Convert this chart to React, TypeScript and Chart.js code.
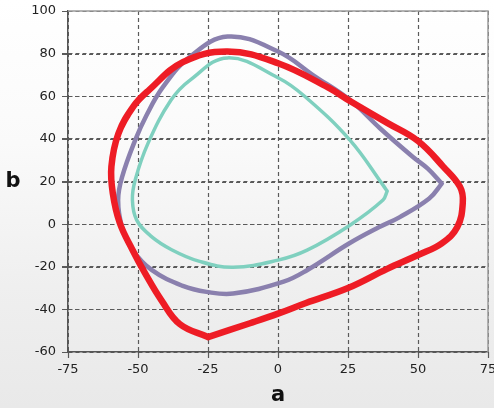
import React, { useEffect, useRef } from "react";
import { Chart, registerables } from "chart.js";

Chart.register(...registerables);

const redX = [-25, -10, 0, 10, 25, 39, 50, 58.5, 64, 66, 65, 59, 50, 39, 26, 18, 0, -18, -34, -46, -51.5, -57, -59.5, -59, -56.5, -52, -47.5, -41.5, -35, -25];
const redY = [-53, -46.5, -42, -37, -30, -21, -14.5, -9, -1.5, 10, 17.5, 27, 39, 47.5, 57.5, 64, 75.5, 81, 76, 63, 55.5, 42.5, 27, 14.5, 0.5, -12, -23, -36, -47, -53];

const purpleX = [58.5, 54, 43.5, 36, 25.5, 10.5, 2, -16, -25.5, -34, -45, -52, -55.7, -57.1, -55.7, -51, -47, -41, -31.5, -18, 0, 13, 25.7, 36.4, 48.2, 53.5, 58.5];
const purpleY = [19, 12, 3.3, -1.5, -9, -21.5, -27, -32.6, -31.8, -29, -21.6, -12, -1.4, 11.3, 22, 39.4, 51, 64.5, 78.5, 88, 81, 69.5, 58.2, 45, 31.5, 26, 19];

const tealX = [39, 37.5, 25.7, 10.4, 0, -16, -28, -38, -45.5, -50.5, -52, -51, -46.4, -38.2, -31.4, -18, 0, 9.5, 25.7, 37.5, 39];
const tealY = [15.5, 11.3, -0.5, -12.2, -16.9, -20.2, -17.5, -12, -5.5, 2, 11.3, 20.7, 38, 58.2, 67.6, 78, 68.7, 60, 39.4, 18.3, 15.5];

const xMin = -75, xMax = 75, xStep = 25;
const yMin = -60, yMax = 100, yStep = 20;
const xTitle = "a";
const yTitle = "b";

const pts = (xs: number[], ys: number[]) => xs.map((x, i) => ({ x, y: ys[i] }));

function dashedPath(ctx: CanvasRenderingContext2D, x1: number, y1: number, x2: number, y2: number, on = 4, off = 3) {
  const len = Math.hypot(x2 - x1, y2 - y1);
  if (!(len > 0)) return;
  const ux = (x2 - x1) / len, uy = (y2 - y1) / len;
  for (let d = 0; d < len; d += on + off) {
    const e = Math.min(d + on, len);
    ctx.moveTo(x1 + ux * d, y1 + uy * d);
    ctx.lineTo(x1 + ux * e, y1 + uy * e);
  }
}

export default function App() {
  const ref = useRef<HTMLCanvasElement | null>(null);

  useEffect(() => {
    if (!ref.current) return;
    const font = { family: "'DejaVu Sans', sans-serif", size: 13 };
    const framePlugin = {
      id: "frame",
      afterDraw(chart: any) {
        const { ctx, chartArea } = chart;
        const xs = chart.scales.x, ys = chart.scales.y;
        const L = chartArea.left, R = chartArea.right, T = chartArea.top, B = chartArea.bottom;

        ctx.save();
        ctx.globalCompositeOperation = "destination-over";
        ctx.globalAlpha = 1;
        ctx.setLineDash([]);
        ctx.lineDashOffset = 0;
        ctx.lineCap = "butt";
        ctx.strokeStyle = "#5a5a5a";
        ctx.lineWidth = 1.2;
        ctx.beginPath();
        for (let v = xMin; v <= xMax; v += xStep) {
          const p = Math.round(xs.getPixelForValue(v)) + 0.5;
          if (p > L + 2 && p < R - 2) dashedPath(ctx, p, T, p, B);
          ctx.moveTo(p, B);
          ctx.lineTo(p, B + 6);
        }
        for (let v = yMin; v <= yMax; v += yStep) {
          const p = Math.round(ys.getPixelForValue(v)) + 0.5;
          if (p > T + 2 && p < B - 2) dashedPath(ctx, L, p, R, p);
          ctx.moveTo(L - 6, p);
          ctx.lineTo(L, p);
        }
        ctx.stroke();
        ctx.restore();

        ctx.save();
        ctx.strokeStyle = "#9a9a9a";
        ctx.lineWidth = 1.5;
        ctx.setLineDash([]);
        ctx.beginPath();
        ctx.moveTo(L, T);
        ctx.lineTo(R, T);
        ctx.lineTo(R, B);
        ctx.stroke();
        ctx.fillStyle = "#111";
        ctx.font = "bold 21px 'DejaVu Sans', sans-serif";
        ctx.textAlign = "center";
        ctx.textBaseline = "middle";
        ctx.fillText(yTitle, 13, (T + B) / 2);
        ctx.restore();
      },
    };
    const grid = { color: "#5a5a5a", lineWidth: 1, tickLength: 6, tickColor: "#5a5a5a" };
    const border = { color: "#555", width: 1.5, dash: [4, 3] };
    const chart = new Chart(ref.current, {
      type: "scatter",
      data: {
        datasets: [
          { data: pts(redX, redY), borderColor: "#ee1c25", borderWidth: 6.5 },
          { data: pts(purpleX, purpleY), borderColor: "#8a80ae", borderWidth: 4.5 },
          { data: pts(tealX, tealY), borderColor: "#7fd0bf", borderWidth: 3.5 },
        ].map((d) => ({
          ...d,
          showLine: true,
          pointRadius: 0,
          tension: 0.4,
          fill: false,
          borderCapStyle: "round" as const,
          borderJoinStyle: "round" as const,
        })),
      },
      options: {
        animation: false,
        responsive: false,
        layout: { padding: { top: 11, right: 6, left: 0, bottom: 0 } },
        plugins: { legend: { display: false }, tooltip: { enabled: false } },
        scales: {
          x: {
            type: "linear",
            min: xMin,
            max: xMax,
            afterFit: (s: any) => {
              s.height = 56;
              s.paddingLeft = 0;
              s.paddingRight = 0;
            },
            ticks: { stepSize: xStep, font, color: "#222", padding: 4, maxRotation: 0, autoSkip: false },
            grid: { ...grid },
            border: { ...border },
            title: {
              display: true,
              text: xTitle,
              color: "#111",
              font: { family: "'DejaVu Sans', sans-serif", size: 21, weight: "bold" },
              padding: { top: 2, bottom: 0 },
            },
          },
          y: {
            type: "linear",
            min: yMin,
            max: yMax,
            afterFit: (s: any) => {
              s.width = 68;
              s.paddingTop = 0;
              s.paddingBottom = 0;
            },
            ticks: { stepSize: yStep, font, color: "#222", padding: 6 },
            grid: { ...grid },
            border: { ...border },
          },
        },
      },
      plugins: [framePlugin],
    } as any);
    return () => chart.destroy();
  }, []);

  return (
    <div
      style={{
        position: "fixed",
        left: 0,
        top: 0,
        width: 494,
        height: 408,
        background: "linear-gradient(to bottom, #ffffff 0%, #fafafa 35%, #efefef 70%, #e9e9e9 100%)",
      }}
    >
      <canvas ref={ref} width={494} height={408} style={{ display: "block" }} />
    </div>
  );
}
